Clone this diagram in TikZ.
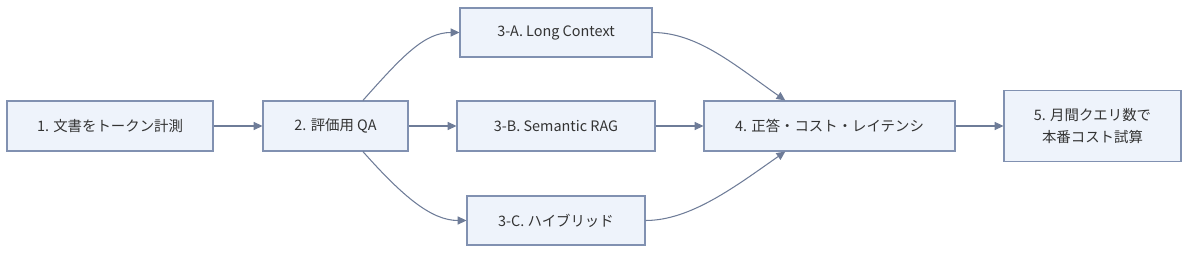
\documentclass[tikz,border=0pt]{standalone}
\usepackage{fontspec}
\setmainfont{Noto Sans CJK JP}
\usetikzlibrary{arrows.meta}
\definecolor{boxfill}{HTML}{EEF3FB}
\definecolor{boxline}{HTML}{8191B1}
\definecolor{arrowc}{HTML}{6E7C98}
\definecolor{txt}{HTML}{333333}
\begin{document}
\begin{tikzpicture}[x=0.02cm,y=-0.02cm,
  stepbox/.style={draw=boxline,fill=boxfill,line width=0.6pt,inner sep=0pt,
    align=center,text=txt,font=\fontsize{8.2pt}{12pt}\selectfont},
  conn/.style={draw=arrowc,line width=0.6pt,-{Triangle[length=5pt,width=4.6pt]}}]
\useasboundingbox (0,0) rectangle (1200,256);
\node[stepbox,minimum width=206*0.02cm,minimum height=50*0.02cm] (b1) at (110,126) {1. 文書をトークン計測};
\node[stepbox,minimum width=145*0.02cm,minimum height=50*0.02cm] (b2) at (335.5,126) {2. 評価用 QA};
\node[stepbox,minimum width=192*0.02cm,minimum height=49*0.02cm] (b3a) at (556,32.5) {3-A. Long Context};
\node[stepbox,minimum width=198*0.02cm,minimum height=50*0.02cm] (b3b) at (556,126) {3-B. Semantic RAG};
\node[stepbox,minimum width=178*0.02cm,minimum height=49*0.02cm] (b3c) at (556,220.5) {3-C. ハイブリッド};
\node[stepbox,minimum width=251*0.02cm,minimum height=50*0.02cm] (b4) at (829.5,126) {4. 正答・コスト・レイテンシ};
\node[stepbox,minimum width=177*0.02cm,minimum height=71*0.02cm] (b5) at (1092.5,126) {5. 月間クエリ数で\\本番コスト試算};
\draw[conn] (b1) -- (b2);
\draw[conn] (b2) -- (b3b);
\draw[conn] (b3b) -- (b4);
\draw[conn] (b4) -- (b5);
\draw[conn] (b2.43) .. controls +(40,-45) and +(-35,0) .. (b3a.west);
\draw[conn] (b2.-43) .. controls +(40,45) and +(-35,0) .. (b3c.west);
\draw[conn] (b3a.east) .. controls +(45,0) and +(-50,-35) .. (b4.150);
\draw[conn] (b3c.east) .. controls +(45,0) and +(-50,35) .. (b4.210);
\end{tikzpicture}
\end{document}
